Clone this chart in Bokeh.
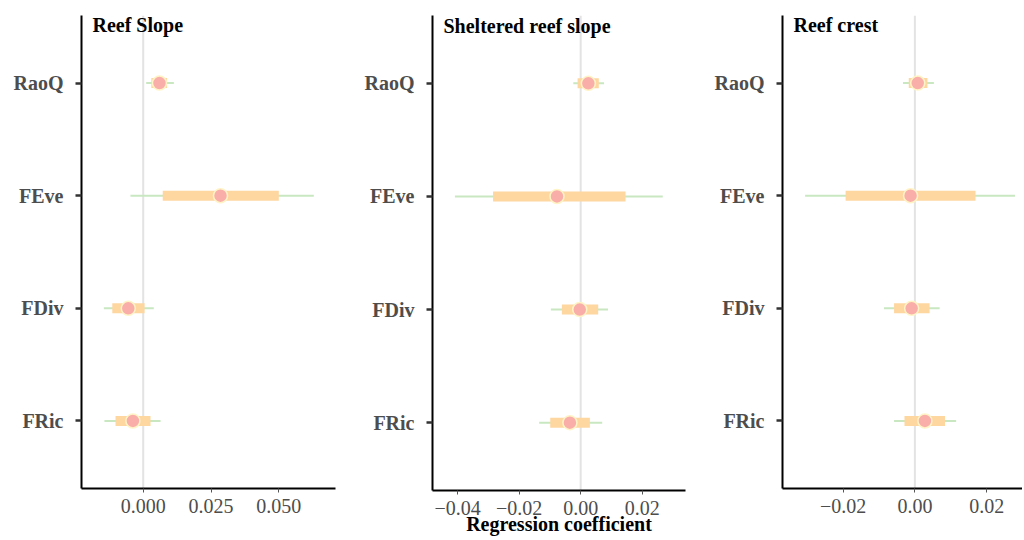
from bokeh.plotting import figure
from bokeh.layouts import row
from bokeh.models import (Range1d, FixedTicker, CustomJSTickFormatter, Span, Label,
                          ColumnDataSource)
from bokeh.embed import file_html
from bokeh.resources import INLINE

# ---------------- data ----------------
metrics = ["FRic", "FDiv", "FEve", "RaoQ"]
metric_pos = [1, 2, 3, 4]

titles = ["Reef Slope", "Sheltered reef slope", "Reef crest"]

slope_est = [-0.0038, -0.0055, 0.0285, 0.0060]
slope_outer_lo = [-0.0143, -0.0145, -0.0047, 0.0011]
slope_outer_hi = [0.0064, 0.0039, 0.0629, 0.0113]
slope_inner_lo = [-0.0102, -0.0114, 0.0072, 0.0030]
slope_inner_hi = [0.0027, 0.0005, 0.0500, 0.0088]

shelt_est = [-0.0035, -0.0003, -0.0077, 0.0025]
shelt_outer_lo = [-0.0135, -0.0097, -0.0409, -0.0024]
shelt_outer_hi = [0.0070, 0.0089, 0.0267, 0.0076]
shelt_inner_lo = [-0.0099, -0.0061, -0.0285, -0.0010]
shelt_inner_hi = [0.0030, 0.0057, 0.0146, 0.0059]

crest_est = [0.0028, -0.0009, -0.0012, 0.0008]
crest_outer_lo = [-0.0058, -0.0086, -0.0306, -0.0033]
crest_outer_hi = [0.0115, 0.0069, 0.0279, 0.0053]
crest_inner_lo = [-0.0029, -0.0058, -0.0193, -0.0017]
crest_inner_hi = [0.0084, 0.0041, 0.0169, 0.0035]

x_ticks_slope = [0.0, 0.025, 0.05]
x_ticks_shelt = [-0.04, -0.02, 0.0, 0.02]
x_ticks_crest = [-0.02, 0.0, 0.02]

x_label = "Regression coefficient"

# ---------------- style ----------------
SERIF = "'Liberation Serif', 'Times New Roman', Times, serif"
GREEN = "#C9E8C1"
ORANGE = "#FED7A0"
PINK = "#FAAEA9"
PINK_EDGE = "#FFF4C6"
ZERO = "#E3E3E3"
GREY_TXT = "#4D4D4D"

FRAME_H = 475
TOP = 15
BOTTOM = 48
Y0, Y1 = 0.4, 4.6

panels = [
    dict(title=titles[0], est=slope_est, olo=slope_outer_lo, ohi=slope_outer_hi,
         ilo=slope_inner_lo, ihi=slope_inner_hi, xr=(-0.02275, 0.0709), ticks=x_ticks_slope,
         digits=3, left=81, fw=254, right=10, xlabel=False),
    dict(title=titles[1], est=shelt_est, olo=shelt_outer_lo, ohi=shelt_outer_hi,
         ilo=shelt_inner_lo, ihi=shelt_inner_hi, xr=(-0.0482, 0.0341), ticks=x_ticks_shelt,
         digits=2, left=87, fw=253, right=10, xlabel=True),
    dict(title=titles[2], est=crest_est, olo=crest_outer_lo, ohi=crest_outer_hi,
         ilo=crest_inner_lo, ihi=crest_inner_hi, xr=(-0.0369, 0.0300), ticks=x_ticks_crest,
         digits=2, left=87, fw=240, right=0, xlabel=False),
]

figs = []
for pd_ in panels:
    w = pd_["left"] + pd_["fw"] + pd_["right"]
    bottom = 50 if pd_["xlabel"] else BOTTOM
    h = TOP + FRAME_H + bottom
    p = figure(width=w, height=h, output_backend="svg", toolbar_location=None,
               x_range=Range1d(*pd_["xr"]), y_range=Range1d(Y0, Y1),
               min_border_left=pd_["left"], min_border_right=pd_["right"],
               min_border_top=TOP, min_border_bottom=bottom)
    p.outline_line_color = None
    p.xgrid.visible = False
    p.ygrid.visible = False
    p.background_fill_color = "white"
    p.border_fill_color = "white"

    src = ColumnDataSource(dict(y=metric_pos, est=pd_["est"], olo=pd_["olo"], ohi=pd_["ohi"],
                                ilo=pd_["ilo"], ihi=pd_["ihi"]))

    p.add_layout(Span(location=0, dimension="height", line_color=ZERO, line_width=2,
                      level="underlay"))

    p.segment(x0="olo", x1="ohi", y0="y", y1="y", source=src, line_color=GREEN, line_width=2)
    p.segment(x0="ilo", x1="ihi", y0="y", y1="y", source=src, line_color=ORANGE,
              line_width=10, line_cap="butt")
    p.scatter(x="est", y="y", source=src, size=14, fill_color=PINK,
              line_color=PINK_EDGE, line_width=1.5)

    # y axis
    p.yaxis.ticker = FixedTicker(ticks=metric_pos)
    p.yaxis.major_label_overrides = {pos: m for pos, m in zip(metric_pos, metrics)}
    p.yaxis.minor_tick_line_color = None
    p.yaxis.major_tick_out = 6
    p.yaxis.major_tick_in = 0
    p.yaxis.major_tick_line_width = 2.5
    p.yaxis.major_tick_line_color = "#333333"
    p.yaxis.axis_line_width = 2
    p.yaxis.axis_line_color = "black"
    p.yaxis.major_label_text_font = SERIF
    p.yaxis.major_label_text_font_style = "bold"
    p.yaxis.major_label_text_font_size = "20px"
    p.yaxis.major_label_text_color = GREY_TXT
    p.yaxis.major_label_standoff = 12

    # x axis
    p.xaxis.ticker = FixedTicker(ticks=pd_["ticks"])
    p.xaxis.formatter = CustomJSTickFormatter(args=dict(d=pd_["digits"]), code="""
        const s = Math.abs(tick).toFixed(d);
        return (tick < -1e-12 ? '\u2212' : '') + s;
    """)
    p.xaxis.minor_tick_line_color = None
    p.xaxis.major_tick_out = 4
    p.xaxis.major_tick_in = 0
    p.xaxis.major_tick_line_color = "#555555"
    p.xaxis.major_tick_line_width = 1
    p.xaxis.axis_line_width = 2
    p.xaxis.axis_line_color = "black"
    p.xaxis.major_label_text_font = SERIF
    p.xaxis.major_label_text_font_size = "20px"
    p.xaxis.major_label_text_color = GREY_TXT
    p.xaxis.major_label_standoff = 6
    if pd_["xlabel"]:
        p.xaxis.axis_label = x_label
        p.xaxis.axis_label_text_font = SERIF
        p.xaxis.axis_label_text_font_style = "bold"
        p.xaxis.axis_label_text_font_size = "20px"
        p.xaxis.axis_label_text_color = "black"
        p.xaxis.axis_label_standoff = -5

    # panel title inside frame, top-left (placed just below the frame top)
    px_per_y = FRAME_H / (Y1 - Y0)
    px_per_x = pd_["fw"] / (pd_["xr"][1] - pd_["xr"][0])
    p.add_layout(Label(x=pd_["xr"][0] + 11 / px_per_x, y=Y1 - 10 / px_per_y,
                       text=pd_["title"], text_font=SERIF, text_font_style="bold",
                       text_font_size="20px", text_color="black", text_baseline="middle",
                       text_align="left"))
    figs.append(p)

layout = row(*figs)
open("out.html", "w").write(file_html(layout, INLINE))
